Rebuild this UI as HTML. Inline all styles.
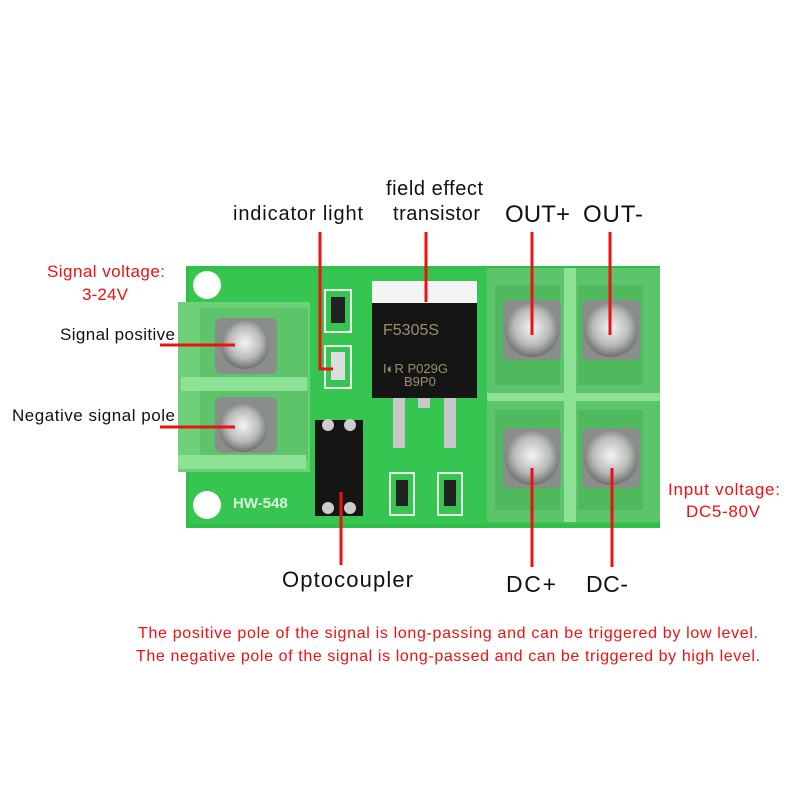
<!DOCTYPE html>
<html><head><meta charset="utf-8"><style>
html,body{margin:0;padding:0;background:#fff;width:800px;height:800px;overflow:hidden}
svg{display:block}
text{font-family:"Liberation Sans",sans-serif}
</style></head><body>
<svg width="800" height="800" viewBox="0 0 800 800" xmlns="http://www.w3.org/2000/svg">
<defs>
<radialGradient id="scr" cx="50%" cy="45%" r="55%">
<stop offset="0" stop-color="#f4f4f4"/><stop offset="0.6" stop-color="#b9bcb9"/><stop offset="1" stop-color="#6c706c"/>
</radialGradient>
</defs>
<rect x="186" y="266" width="474" height="262" fill="#2fbf4a"/>
<rect x="190" y="270" width="466" height="254" fill="#37c552"/>
<circle cx="207" cy="285" r="14" fill="#fff"/>
<circle cx="207" cy="505" r="14" fill="#fff"/>
<text x="233" y="508" font-size="15" fill="#d8f5dc" font-weight="bold">HW-548</text>
<rect x="178" y="302" width="132" height="170" fill="#6fd07a"/>
<rect x="200" y="308" width="108" height="70" fill="#5ec46a"/>
<rect x="200" y="390" width="108" height="70" fill="#5ec46a"/>
<rect x="181" y="377" width="126" height="14" fill="#8ee296"/>
<rect x="178" y="455" width="128" height="14" fill="#8ee296"/>
<rect x="215" y="318" width="62" height="56" rx="6" fill="#8a8e8a"/>
<circle cx="245" cy="345" r="24" fill="url(#scr)"/>
<rect x="215" y="397" width="62" height="56" rx="6" fill="#8a8e8a"/>
<circle cx="243" cy="428" r="24" fill="url(#scr)"/>
<rect x="325" y="290" width="26" height="42" fill="none" stroke="#e9f7ea" stroke-width="2"/>
<rect x="331" y="297" width="14" height="26" fill="#222"/>
<rect x="325" y="346" width="26" height="42" fill="none" stroke="#e9f7ea" stroke-width="2"/>
<rect x="331" y="352" width="14" height="28" fill="#ddd"/>
<rect x="372" y="281" width="105" height="22" fill="#f4f4f4"/>
<rect x="372" y="303" width="105" height="95" fill="#151515"/>
<text x="383" y="335" font-size="16" fill="#9a8f6a" font-family="Liberation Mono,monospace">F5305S</text>
<text x="383" y="373" font-size="13" fill="#9a8f6a" font-family="Liberation Mono,monospace">I◐R P029G</text>
<text x="404" y="386" font-size="13" fill="#9a8f6a" font-family="Liberation Mono,monospace">B9P0</text>
<rect x="393" y="398" width="12" height="50" fill="#c8c8c8"/>
<rect x="444" y="398" width="12" height="50" fill="#c8c8c8"/>
<rect x="418" y="398" width="12" height="10" fill="#c8c8c8"/>
<rect x="315" y="420" width="48" height="96" fill="#151515"/>
<circle cx="328" cy="425" r="6" fill="#ccc"/><circle cx="350" cy="425" r="6" fill="#ccc"/>
<circle cx="328" cy="508" r="6" fill="#ccc"/><circle cx="350" cy="508" r="6" fill="#ccc"/>
<rect x="390" y="473" width="24" height="42" fill="none" stroke="#e9f7ea" stroke-width="2"/>
<rect x="396" y="480" width="12" height="26" fill="#222"/>
<rect x="438" y="473" width="24" height="42" fill="none" stroke="#e9f7ea" stroke-width="2"/>
<rect x="444" y="480" width="12" height="26" fill="#222"/>
<rect x="487" y="268" width="173" height="254" fill="#5cc46a"/>
<rect x="564" y="268" width="12" height="254" fill="#8ee296"/>
<rect x="487" y="393" width="173" height="8" fill="#8ee296"/>
<rect x="495" y="285" width="65" height="100" fill="#4fb95e"/>
<rect x="578" y="285" width="65" height="100" fill="#4fb95e"/>
<rect x="495" y="410" width="65" height="100" fill="#4fb95e"/>
<rect x="578" y="410" width="65" height="100" fill="#4fb95e"/>
<rect x="503" y="300" width="58" height="60" rx="6" fill="#8a8e8a"/>
<circle cx="532" cy="330" r="27" fill="url(#scr)"/>
<rect x="582" y="300" width="58" height="60" rx="6" fill="#8a8e8a"/>
<circle cx="611" cy="330" r="27" fill="url(#scr)"/>
<rect x="503" y="428" width="58" height="60" rx="6" fill="#8a8e8a"/>
<circle cx="532" cy="458" r="27" fill="url(#scr)"/>
<rect x="582" y="428" width="58" height="60" rx="6" fill="#8a8e8a"/>
<circle cx="611" cy="458" r="27" fill="url(#scr)"/>
<g stroke="#ee1111" stroke-width="3" fill="none">
<polyline points="320,232 320,369 333,369"/>
<line x1="426" y1="232" x2="426" y2="302"/>
<line x1="532" y1="232" x2="532" y2="335"/>
<line x1="610" y1="232" x2="610" y2="335"/>
<line x1="532" y1="468" x2="532" y2="567"/>
<line x1="612" y1="468" x2="612" y2="567"/>
<line x1="341" y1="492" x2="341" y2="565"/>
<line x1="160" y1="345" x2="235" y2="345"/>
<line x1="160" y1="427" x2="235" y2="427"/>
</g>
<g fill="#111">
<text x="233" y="220" font-size="20" textLength="130">indicator light</text>
<text x="386" y="195" font-size="20" textLength="97">field effect</text>
<text x="393" y="220" font-size="20" textLength="87">transistor</text>
<text x="505" y="222" font-size="24" textLength="65">OUT+</text>
<text x="583" y="222" font-size="24" textLength="60">OUT-</text>
<text x="60" y="340" font-size="17" textLength="115">Signal positive</text>
<text x="12" y="421" font-size="17" textLength="163">Negative signal pole</text>
<text x="282" y="587" font-size="22" textLength="131">Optocoupler</text>
<text x="506" y="592" font-size="23" textLength="50">DC+</text>
<text x="586" y="592" font-size="23" textLength="42">DC-</text>
</g>
<g fill="#ee1111">
<text x="47" y="277" font-size="17" textLength="118">Signal voltage:</text>
<text x="82" y="300" font-size="17" textLength="46">3-24V</text>
<text x="668" y="495" font-size="17" textLength="112">Input voltage:</text>
<text x="686" y="517" font-size="17" textLength="74">DC5-80V</text>
<text x="138" y="638" font-size="16" textLength="620">The positive pole of the signal is long-passing and can be triggered by low level.</text>
<text x="136" y="661" font-size="16" textLength="624">The negative pole of the signal is long-passed and can be triggered by high level.</text>
</g>
</svg>
</body></html>
